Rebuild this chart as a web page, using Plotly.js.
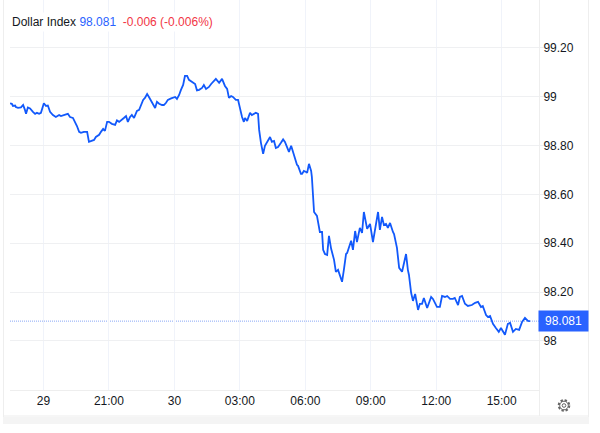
<!DOCTYPE html>
<html>
<head>
<meta charset="utf-8">
<script src="https://cdn.plot.ly/plotly-3.0.1.min.js"></script>
<style>html,body{margin:0;padding:0;background:#fff;overflow:hidden}#chart{width:600px;height:433px}</style>
</head>
<body>
<div id="chart"></div>
<script>
// minutes relative to the "29" tick
const minutes = [-92,-87,-84,-78,-76,-70,-62,-56,-51,-48,-43,-37,-29,-23,-18,-12,-7,1,7,12,18,26,34,43,48,54,62,67,73,81,87,92,98,103,111,120,125,131,139,144,153,158,164,169,175,180,188,197,202,208,216,221,227,232,238,243,249,257,263,268,274,279,285,290,296,301,307,312,318,326,331,337,342,351,356,362,367,373,378,384,389,395,400,408,417,422,428,436,441,447,455,461,469,474,483,491,499,505,510,516,521,529,535,540,546,551,554,560,568,573,579,584,590,593,598,604,609,617,623,628,634,639,645,653,659,664,670,675,681,686,692,697,700,708,711,716,722,725,730,736,738,744,752,755,760,766,769,774,780,785,791,799,804,810,821,826,832,835,843,846,851,857,862,870,876,881,890,898,906,914,920,925,931,936,942,947,953,961,964,972,978,986,991,997,1002,1005,1011,1016,1022,1030,1035,1041,1046,1055,1066,1071,1082,1090,1096,1104,1110,1118,1126,1131,1140,1145,1151,1159,1167,1178,1187,1195,1203,1208,1217,1222,1228,1236,1244,1252,1258,1269,1277,1283,1291,1299,1308,1316,1324,1332,1338];
const prices = [98.973,98.971,98.962,98.964,98.958,98.954,98.956,98.966,98.946,98.930,98.956,98.952,98.938,98.930,98.934,98.930,98.934,98.973,98.962,98.964,98.938,98.925,98.917,98.925,98.921,98.925,98.928,98.930,98.917,98.913,98.897,98.880,98.856,98.852,98.856,98.856,98.815,98.819,98.823,98.835,98.844,98.856,98.868,98.860,98.897,98.897,98.889,98.885,98.903,98.897,98.905,98.913,98.921,98.897,98.917,98.925,98.913,98.942,98.946,98.966,98.987,98.995,99.011,98.999,98.983,98.971,98.954,98.979,98.971,98.966,98.966,98.975,98.987,98.993,98.995,98.999,98.991,99.007,99.028,99.048,99.085,99.085,99.069,99.061,99.052,99.026,99.028,99.036,99.048,99.032,99.040,99.052,99.065,99.073,99.057,99.073,99.044,99.032,98.995,99.003,98.999,98.987,98.987,98.954,98.917,98.897,98.913,98.901,98.934,98.925,98.930,98.934,98.930,98.864,98.811,98.766,98.799,98.823,98.835,98.815,98.819,98.790,98.794,98.811,98.825,98.815,98.790,98.774,98.799,98.774,98.741,98.721,98.717,98.684,98.684,98.696,98.692,98.688,98.725,98.696,98.672,98.528,98.512,98.487,98.446,98.446,98.373,98.356,98.352,98.430,98.377,98.332,98.283,98.291,98.242,98.291,98.356,98.360,98.401,98.410,98.373,98.450,98.405,98.463,98.442,98.528,98.459,98.479,98.405,98.487,98.528,98.455,98.508,98.475,98.479,98.463,98.483,98.446,98.438,98.381,98.299,98.283,98.311,98.356,98.291,98.270,98.197,98.164,98.192,98.127,98.152,98.152,98.176,98.135,98.180,98.172,98.139,98.139,98.184,98.180,98.184,98.172,98.172,98.176,98.147,98.180,98.184,98.152,98.143,98.147,98.156,98.160,98.139,98.143,98.106,98.098,98.102,98.070,98.053,98.037,98.053,98.025,98.070,98.074,98.037,98.049,98.045,98.078,98.094,98.082,98.081];
const xTickVals = [0,180,360,540,720,900,1080,1260];
const xTickText = ["29","21:00","30","03:00","06:00","09:00","12:00","15:00"];
const yTickVals = [98,98.2,98.4,98.6,98.8,99,99.2];
const yTickText = ["98","98.20","98.40","98.60","98.80","99","99.20"];
const lastPrice = 98.081;

const BLUE = "#1259fb", GRID = "#f0f3fa", EDGE = "#eeeeee";
const W = 600, H = 433, L = 10, R = 61, T = 0, B = 43;
const px = v => (v - L) / (W - L - R);
const py = v => 1 - (v - T) / (H - T - B);
const box = (x0, y0, x1, y1, o) => Object.assign({type:"rect", xref:"paper", yref:"paper", layer:"below",
  x0:px(x0), x1:px(x1), y0:py(y0), y1:py(y1), line:{width:0}}, o);
const gear = "data:image/svg+xml," + encodeURIComponent(
 '<svg xmlns="http://www.w3.org/2000/svg" width="14" height="14" viewBox="0 0 14 14"><circle cx="7" cy="7" r="5" fill="none" stroke="#666" stroke-width="2.6" stroke-dasharray="2.2 1.73"/><circle cx="7" cy="7" r="4.3" fill="#fff" stroke="#666" stroke-width="1"/><circle cx="7" cy="7" r="1.8" fill="#fff" stroke="#666" stroke-width="1"/></svg>');

Plotly.newPlot("chart", [{
  type:"scatter", mode:"lines", x:minutes, y:prices,
  line:{color:BLUE, width:1.8, shape:"linear"}, hoverinfo:"skip"
}], {
  width:W, height:H, margin:{l:L, r:R, t:T, b:B, pad:0},
  paper_bgcolor:"#fff", plot_bgcolor:"#fff", showlegend:false,
  font:{family:"Liberation Sans, Arial, sans-serif", size:12, color:"#131722"},
  xaxis:{range:[-92.1,1362.6], tickmode:"array", tickvals:xTickVals, ticktext:xTickText,
    showgrid:true, gridcolor:GRID, gridwidth:1, zeroline:false, showline:true, linecolor:EDGE, linewidth:1,
    ticks:"", fixedrange:true},
  yaxis:{range:[97.799,99.396], side:"right", tickmode:"array", tickvals:yTickVals, ticktext:yTickText,
    showgrid:true, gridcolor:"#eff0f2", gridwidth:1, zeroline:false, showline:true, linecolor:EDGE, linewidth:1,
    ticks:"outside", ticklen:4, tickcolor:"#eff0f2", ticklabelstandoff:-3, fixedrange:true},
  shapes:[
    {type:"line", xref:"paper", yref:"y", x0:0, x1:1, y0:lastPrice, y1:lastPrice, layer:"below",
      line:{color:"#8aa7f5", width:1, dash:"1px,1px"}},
    box(3,0,4,424,{fillcolor:EDGE}),
    box(588,0,589,424,{fillcolor:EDGE}),
    box(539,390,540,416,{fillcolor:EDGE}),
    box(3,415.5,589,416.5,{fillcolor:EDGE}),
    box(3,417,589,424,{fillcolor:"#f4f4f4"})
  ],
  annotations:[
    {xref:"paper", yref:"paper", x:px(9), y:py(22), xanchor:"left", yanchor:"middle", showarrow:false,
      bgcolor:"#fff", borderpad:2,
      font:{size:12, color:"#131722"},
      text:'Dollar Index <span style="color:#2962ff">98.081</span>  <span style="color:#f23645">-0.006 (-0.006%)</span>'},
    {xref:"paper", yref:"y", x:px(563.5), y:lastPrice, xanchor:"center", yanchor:"middle", showarrow:false,
      bgcolor:"#2962ff", width:49, height:20, borderpad:0,
      font:{size:12, color:"#fff"}, text:"98.081"}
  ],
  images:[{source:gear, xref:"paper", yref:"paper", x:px(557), y:py(398.5), sizex:14/529, sizey:14/390,
    xanchor:"left", yanchor:"top", sizing:"stretch", layer:"above"}]
}, {displayModeBar:false, staticPlot:true});
</script>
</body>
</html>
